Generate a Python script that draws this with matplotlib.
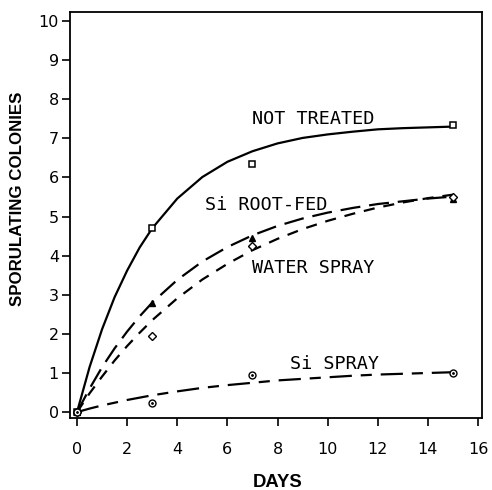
import matplotlib
matplotlib.use("Agg")
import matplotlib.pyplot as plt

# observed points
days = [0, 3, 7, 15]
not_treated = [0, 4.7, 6.35, 7.35]
si_root_fed = [0, 2.8, 4.45, 5.45]
water_spray = [0, 1.95, 4.25, 5.5]
si_spray = [0, 0.22, 0.95, 1.0]

# fitted curves
curve_days = [0, 0.5, 1, 1.5, 2, 2.5, 3, 4, 5, 6, 7, 8, 9, 10, 11, 12, 13, 14, 15]
not_treated_fit = [0, 1.15, 2.12, 2.94, 3.62, 4.21, 4.70, 5.46, 6.01, 6.40, 6.67,
                   6.87, 7.01, 7.10, 7.17, 7.23, 7.26, 7.28, 7.30]
si_root_fed_fit = [0, 0.60, 1.15, 1.63, 2.06, 2.45, 2.80, 3.38, 3.85, 4.22, 4.52,
                   4.76, 4.95, 5.10, 5.22, 5.32, 5.39, 5.46, 5.51]
water_spray_fit = [0, 0.48, 0.91, 1.32, 1.69, 2.03, 2.35, 2.91, 3.39, 3.79, 4.14,
                   4.43, 4.68, 4.89, 5.07, 5.23, 5.36, 5.47, 5.56]
si_spray_fit = [0, 0.09, 0.17, 0.24, 0.31, 0.37, 0.43, 0.53, 0.62, 0.69, 0.75,
                0.81, 0.85, 0.89, 0.93, 0.96, 0.98, 1.00, 1.02]

fig = plt.figure(figsize=(4.92, 4.90), dpi=100)
ax = fig.add_axes([0.1423, 0.147, 0.8374, 0.8285])

lw = 1.6
ax.plot(curve_days, not_treated_fit, color="black", lw=lw, ls="-")
ax.plot(curve_days, si_root_fed_fit, color="black", lw=lw, ls=(0, (9, 4)))
ax.plot(curve_days, water_spray_fit, color="black", lw=lw, ls=(0, (5, 4)))
ax.plot(curve_days, si_spray_fit, color="black", lw=lw, ls=(0, (10, 4, 5, 4)))

ax.plot(days, not_treated, ls="none", marker="s", ms=5, mfc="white", mec="black", mew=1.1)
ax.plot(days, si_root_fed, ls="none", marker="^", ms=5, mfc="black", mec="black", mew=1.0)
ax.plot(days, water_spray, ls="none", marker="D", ms=4, mfc="white", mec="black", mew=1.0)
ax.plot(days, si_spray, ls="none", marker="o", ms=5, mfc="white", mec="black", mew=1.0)
ax.plot(days, si_spray, ls="none", marker=".", ms=2, color="black")

lab = dict(family="DejaVu Sans Mono", fontsize=13.3, va="center", ha="left")
ax.text(7.0, 7.5, "NOT TREATED", **lab)
ax.text(5.1, 5.3, "Si ROOT-FED", **lab)
ax.text(7.0, 3.68, "WATER SPRAY", **lab)
ax.text(8.5, 1.23, "Si SPRAY", **lab)

ax.set_xlim(-0.28, 16.16)
ax.set_ylim(-0.15, 10.23)
ax.set_xticks(range(0, 17, 2))
ax.set_yticks(range(0, 11))
ax.tick_params(direction="out", length=6, width=1.2, labelsize=11.5)
ax.tick_params(axis="x", pad=11)
ax.tick_params(axis="y", pad=2)
for s in ax.spines.values():
    s.set_linewidth(1.3)

ax.set_xlabel("DAYS", family="Liberation Sans", fontweight="bold", fontsize=13.3)
ax.set_ylabel("SPORULATING COLONIES", family="Liberation Sans", fontweight="bold",
              fontsize=12.2)
ax.xaxis.set_label_coords(0.505, -0.138)
ax.yaxis.set_label_coords(-0.109, 0.539)

fig.savefig("out.png", dpi=100)
